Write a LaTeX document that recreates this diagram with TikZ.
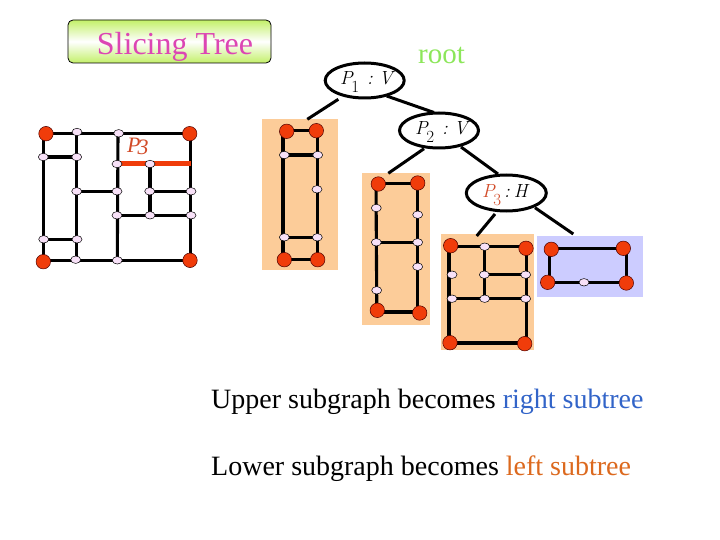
\documentclass[tikz,border=0pt]{standalone}
\usepackage{fontspec}
\setmainfont{Liberation Serif}
\usetikzlibrary{shapes.geometric}
\definecolor{cornerred}{RGB}{240,60,10}
\definecolor{smallpink}{RGB}{248,225,248}
\definecolor{peach}{RGB}{252,204,153}
\definecolor{lav}{RGB}{204,204,255}
\definecolor{rootgreen}{RGB}{140,230,90}
\definecolor{titlepink}{RGB}{220,70,180}
\definecolor{titlegreen}{RGB}{195,240,105}
\definecolor{pthree}{RGB}{210,75,40}
\definecolor{rightblue}{RGB}{50,100,200}
\definecolor{leftorange}{RGB}{220,105,30}
\newcommand{\lmf}{\fontfamily{lmr}\selectfont}
\newcommand{\cutlabel}[4]{{\lmf\fontsize{19}{19}\selectfont\itshape #1}\kern-1.5pt\raisebox{-8pt}{\lmf\fontsize{17}{17}\selectfont #2}\kern#3{\lmf\fontsize{19}{19}\selectfont\itshape #4}}
\tikzset{
  x=1pt,y=-1pt,
  big/.style={circle,draw=black!70!red,line width=.5pt,fill=cornerred,minimum size=14.5pt,inner sep=0pt},
  small/.style={ellipse,draw=black,line width=.5pt,fill=smallpink,minimum width=10pt,minimum height=7.5pt,inner sep=0pt},
  wire/.style={line width=3.1pt,black},
  tree/.style={line width=3pt,black},
  cut/.style={ellipse,draw=black,line width=3pt,fill=white,minimum width=79pt,minimum height=35pt,inner sep=0pt},
  capline/.style={font=\fontsize{28}{28}\selectfont,anchor=base west,inner sep=0pt},
  cutlab/.style={anchor=base west,inner sep=0pt}
}
\newcommand{\wires}[1]{\foreach \a/\b in {#1}{\draw[wire,line cap=round] (\a) -- (\b);}}
\begin{document}
\begin{tikzpicture}
\useasboundingbox (0,0) rectangle (720,540);
% title
\node[draw=black,line width=.8pt,rounded corners=5pt,minimum width=203pt,minimum height=43pt,inner sep=0pt,
  top color=titlegreen,bottom color=titlegreen,middle color=white] (title) at (169.5,41.5) {};
\node[text=titlepink,font=\fontsize{32}{32}\selectfont,inner sep=0pt,anchor=base] (titletext) at (175,54.5) {Slicing Tree};
\node[text=rootgreen,font=\fontsize{29}{29}\selectfont,inner sep=0pt,anchor=base] (root) at (441.5,63.5) {root};
% panels
\fill[peach] (262.3,119) rectangle (337.7,269.7);
\fill[peach] (362.3,173.3) rectangle (429.7,324.7);
\fill[peach] (441,234) rectangle (533.7,350);
\fill[lav] (536.7,236) rectangle (642.7,297.3);
% positions of terminals
\foreach \n/\p in {a1/{46,133.7},a2/{189.7,133.7},a3/{43.3,261.7},a4/{190,260.3},
 b1/{77,132},b2/{118.7,133.3},b3/{43.3,157},b4/{76.7,157},b5/{117,164},b6/{150,164},b7/{191,164},
 b8/{76.7,191.3},b9/{117,191.3},b10/{149.7,191.3},b11/{191,191.3},b12/{117,215.3},b13/{150,215.3},b14/{191,215.3},
 b15/{43.7,239.3},b16/{77,239.3},b17/{75.7,259.7},b18/{117.3,260.3},
 c1/{286.7,131.3},c2/{316.3,130.7},c3/{284.3,259.7},c4/{317.7,259.7},d1/{284.3,155},d2/{317.7,155},d3/{317,189.3},d4/{284.3,237.3},d5/{317.3,237.3},
 e1/{378.3,184},e2/{417.7,183},e3/{377.3,310.3},e4/{419.7,313},f1/{376.3,208},f2/{417.7,214.7},f3/{376.3,242.3},f4/{417.7,242.3},f5/{417.7,266.7},f6/{376.7,290.3},
 g1/{450.7,245.7},g2/{526,248.3},g3/{450,342.7},g4/{524.7,343.7},h1/{484.7,246.7},h2/{452,274.7},h3/{484.3,274.7},h4/{525.7,274.7},h5/{452,298.7},h6/{484.7,298.7},h7/{525.7,298.7},
 i1/{551.3,249.3},i2/{623.3,248.3},i3/{547.7,282.3},i4/{626.3,283},j1/{584,282.3},
 % rectilinear frames under the terminals
 wa1/{43.7,133.5},wa2/{190.5,133.5},wa3/{43.7,260.5},wa4/{190.5,260.5},wb1/{76.7,133.5},wb2/{76.7,260.5},wb3/{118,133.5},wb4/{117.3,260.5},
 wc1/{283,130.5},wc2/{317.5,130.5},wc3/{283,259.7},wc4/{317.5,259.7},
 we1/{376,183.5},we2/{417.7,183.5},we3/{376.8,312},we4/{417.7,312},
 wg1/{449,246.3},wg2/{526.7,246.3},wg3/{449,343},wg4/{526.7,343},
 wi1/{549.3,248.7},wi2/{626.7,248.7},wi3/{549.3,282.3},wi4/{626.7,282.3}}
 {\coordinate (\n) at (\p);}
\wires{wa1/wa2,wa2/wa4,wa4/wa3,wa3/wa1,wb1/wb2,b3/b4,wb3/wb4,b8/b9,b10/b11,b6/b13,b12/b14,b15/b16,
 wc1/wc2,wc2/wc4,wc4/wc3,wc3/wc1,d1/d2,d4/d5,
 we1/we2,we2/we4,we4/we3,we3/we1,f3/f4,
 wg1/wg2,wg2/wg4,wg4/wg3,wg3/wg1,h1/h6,h3/h4,h5/h7,
 wi1/wi2,wi2/wi4,wi4/wi3,wi3/wi1}
\draw[line width=5pt,cornerred] (b5) -- (b7);
\foreach \n in {a1,a2,a3,a4,c1,c2,c3,c4,e1,e2,e3,e4,g1,g2,g3,g4,i1,i2,i3,i4}
  \node[big] (n\n) at (\n) {};
\foreach \n in {b1,b2,b3,b4,b5,b6,b8,b9,b10,b11,b12,b13,b14,b15,b16,b17,b18,d1,d2,d3,d4,d5,f1,f2,f3,f4,f5,f6,h1,h2,h3,h4,h5,h6,h7,j1}
  \node[small] (n\n) at (\n) {};
\node[text=pthree,inner sep=0pt,anchor=base west] (p3left) at (127,153) {\fontsize{22}{22}\selectfont\itshape P\kern-3pt\raisebox{-2pt}{3}};
% tree
\foreach \n/\p in {t1a/{338.3,99.3},t1b/{307.3,119.3},t2a/{424,148.7},t2b/{388.3,173.3},t3a/{495,214},t3b/{476.7,236},t4a/{535,207.7},t4b/{573.3,234},
 s1a/{386.7,96},s1b/{434,112.5},s2a/{461,147},s2b/{498,174}}
 {\coordinate (\n) at (\p);}
\draw[tree] (s1a) -- (s1b);
\draw[tree] (s2a) -- (s2b);
\draw[tree] (t1a) -- (t1b);
\draw[tree] (t2a) -- (t2b);
\draw[tree] (t3a) -- (t3b);
\draw[tree] (t4a) -- (t4b);
\node[cut] (p1) at (364.7,80.5) {};
\node[cut] (p2) at (439,130.5) {};
\node[cut,minimum width=80pt,minimum height=36pt] (p3) at (506.3,193) {};
\node[cutlab] (p1t) at (340,85) {\cutlabel{P}{1}{8pt}{:\kern6pt V}};
\node[cutlab] (p2t) at (415,135) {\cutlabel{P}{2}{8pt}{:\kern6pt V}};
\node[cutlab] (p3t) at (482,198) {\textcolor{pthree}{\cutlabel{P}{3}{2pt}{}}\kern1pt{\lmf\fontsize{19}{19}\selectfont\itshape :\kern4pt H}};
% captions
\node[capline] (up) at (211,408) {Upper subgraph becomes \textcolor{rightblue}{right subtree}};
\node[capline] (lo) at (211,475) {Lower subgraph becomes \textcolor{leftorange}{left subtree}};
\end{tikzpicture}
\end{document}
